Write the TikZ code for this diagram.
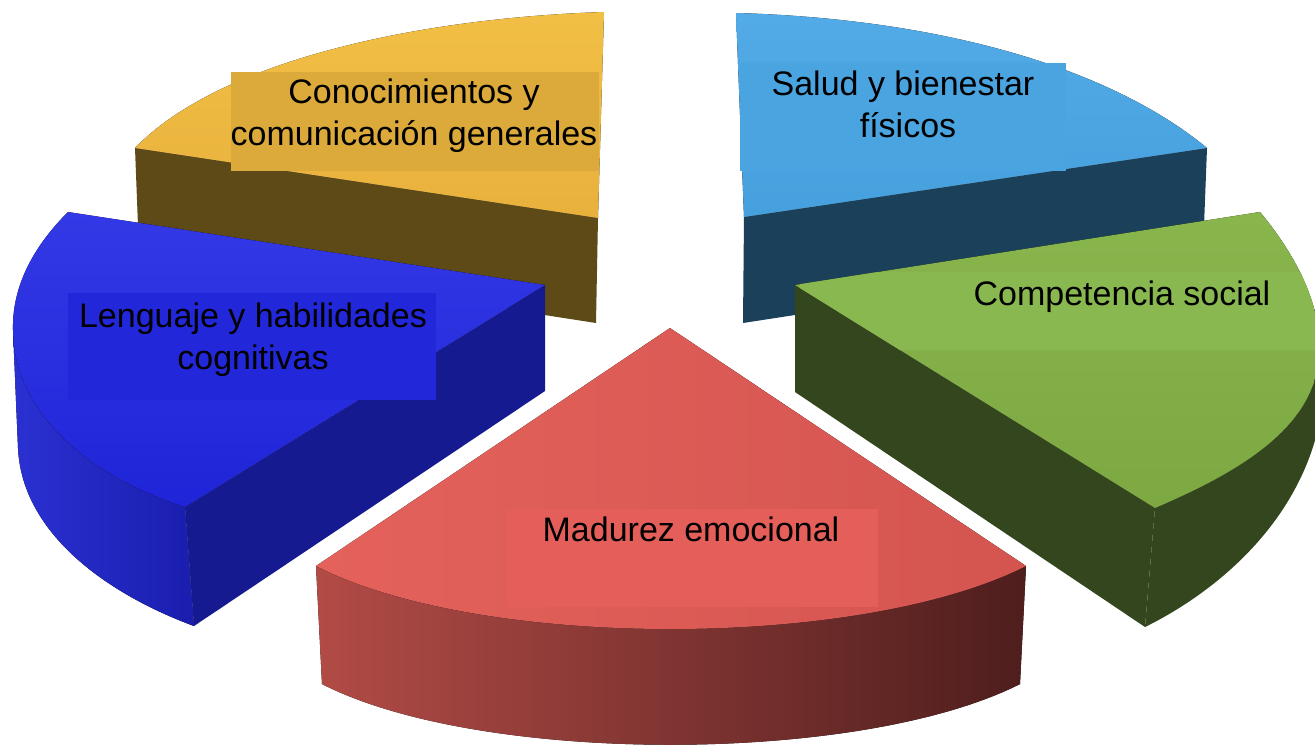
\documentclass[tikz,border=0pt]{standalone}
\usepackage{fontspec}
\setmainfont{Liberation Sans}
\definecolor{yTop}{HTML}{F2BF45}
\definecolor{yTopB}{HTML}{E8B13C}
\definecolor{ySide}{HTML}{5E4A17}
\definecolor{yBox}{HTML}{DBAA3A}
\definecolor{cTop}{HTML}{52ABE6}
\definecolor{cTopB}{HTML}{46A0DD}
\definecolor{cSide}{HTML}{1B405A}
\definecolor{cBox}{HTML}{4AA4E0}
\definecolor{bTop}{HTML}{3439E6}
\definecolor{bTopB}{HTML}{1F24D8}
\definecolor{bFront}{HTML}{161A90}
\definecolor{bWallL}{HTML}{2B30D2}
\definecolor{bWallR}{HTML}{1A1EAE}
\definecolor{bBox}{HTML}{2228DA}
\definecolor{gTop}{HTML}{88B64D}
\definecolor{gTopB}{HTML}{7DA842}
\definecolor{gSide}{HTML}{34461D}
\definecolor{gBox}{HTML}{8AB850}
\definecolor{rTop}{HTML}{E4625B}
\definecolor{rTopB}{HTML}{D45450}
\definecolor{rWallL}{HTML}{B24B46}
\definecolor{rWallR}{HTML}{4E1E1D}
\definecolor{rBox}{HTML}{E45F59}
\tikzset{
  lbl/.style={inner sep=0pt, anchor=base, text=black, font=\fontsize{34}{42}\selectfont},
  lblbox/.style={inner sep=0pt, draw=none, anchor=north west}
}
\begin{document}
\begin{tikzpicture}[x=1pt,y=-1pt]
\useasboundingbox (0,0) rectangle (1315,748);
\clip (0,0) rectangle (1315,748);
\fill[white] (0,0) rectangle (1315,748);
% ---------- yellow slice (top-left) ----------
\fill[ySide] (135,148) -- (598,218) -- (596,323) -- (139,252) -- cycle;
\fill[top color=yTop, bottom color=yTopB] (135,148) .. controls (220,60) and (420,18) .. (604,12) -- (598,218) -- cycle;
% ---------- light blue slice (top-right) ----------
\fill[cSide] (744,217) -- (1207,148) -- (1203,252) -- (743,323) -- cycle;
\fill[top color=cTop, bottom color=cTopB] (736,13) .. controls (920,18) and (1100,60) .. (1207,148) -- (744,217) -- cycle;
% ---------- blue slice (left) ----------
\fill[left color=bWallL, right color=bWallR] (13,330) .. controls (14,420) and (100,480) .. (185,507) -- (194,626) .. controls (110,595) and (22,535) .. (18,448) -- cycle;
\fill[bFront] (185,507) -- (545,285) -- (545,391) -- (194,626) -- cycle;
\fill[top color=bTop, bottom color=bTopB] (545,285) -- (68,212) .. controls (30,250) and (12,290) .. (13,330) .. controls (14,420) and (100,480) .. (185,507) -- cycle;
% ---------- green slice (right) ----------
\fill[gSide] (1316,375) .. controls (1300,440) and (1220,480) .. (1155,508) -- (1145,627) .. controls (1220,590) and (1300,520) .. (1320,420) -- cycle;
\fill[gSide] (795,285) -- (1155,508) -- (1145,627) -- (795,392) -- cycle;
\fill[top color=gTop, bottom color=gTopB] (795,285) -- (1260,212) .. controls (1300,260) and (1330,320) .. (1316,375) .. controls (1300,440) and (1220,480) .. (1155,508) -- cycle;
% ---------- red slice (bottom) ----------
\fill[left color=rWallL, right color=rWallR] (316,566) .. controls (480,650) and (860,650) .. (1026,566) -- (1020,684) .. controls (860,765) and (480,765) .. (322,684) -- cycle;
\fill[left color=rTop, right color=rTopB] (670,328) -- (316,566) .. controls (480,650) and (860,650) .. (1026,566) -- cycle;
% ---------- label boxes ----------
\node[lblbox, fill=yBox, minimum width=368pt, minimum height=99pt] (ybox) at (231,72) {};
\node[lblbox, fill=cBox, minimum width=326pt, minimum height=108pt] (cbox) at (740,63) {};
\begin{scope}
  \clip (795,285) -- (1260,212) .. controls (1300,260) and (1330,320) .. (1316,375) .. controls (1300,440) and (1220,480) .. (1155,508) -- cycle;
  \node[lblbox, fill=gBox, minimum width=520pt, minimum height=78pt] (gbox) at (800,272) {};
\end{scope}
\node[lblbox, fill=bBox, minimum width=368pt, minimum height=107pt] (bbox) at (68,293) {};
\node[lblbox, fill=rBox, minimum width=371pt, minimum height=98pt] (rbox) at (507,509) {};
% ---------- labels ----------
\node[lbl] (y1) at (414,103) {Conocimientos y};
\node[lbl] (y2) at (414,145) {comunicación generales};
\node[lbl] (c1) at (903,95) {Salud y bienestar};
\node[lbl] (c2) at (908,137) {físicos};
\node[lbl] (g1) at (1122,305) {Competencia social};
\node[lbl] (b1) at (253,327) {Lenguaje y habilidades};
\node[lbl] (b2) at (253,369) {cognitivas};
\node[lbl] (r1) at (691,541) {Madurez emocional};
\end{tikzpicture}
\end{document}
